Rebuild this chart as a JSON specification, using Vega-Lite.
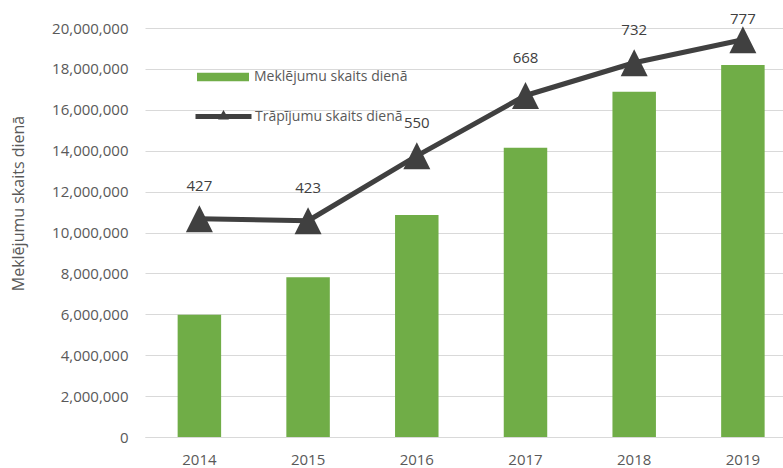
{
  "$schema": "https://vega.github.io/schema/vega-lite/v6.json",
  "autosize": "none",
  "width": 638,
  "height": 409,
  "padding": {"left": 145, "top": 28, "right": 0, "bottom": 31},
  "background": "white",
  "config": {
    "view": {"stroke": null},
    "font": "Open Sans",
    "axis": {"labelFont": "Open Sans", "titleFont": "Open Sans", "labelColor": "#595959", "titleColor": "#595959", "titleFontWeight": "normal"},
    "legend": {"labelFont": "Open Sans", "labelColor": "#595959", "labelFontSize": 14}
  },
  "data": {
    "values": [
      {"year": "2014", "searches": 5980000, "hits": 427},
      {"year": "2015", "searches": 7810000, "hits": 423},
      {"year": "2016", "searches": 10860000, "hits": 550},
      {"year": "2017", "searches": 14150000, "hits": 668},
      {"year": "2018", "searches": 16880000, "hits": 732},
      {"year": "2019", "searches": 18190000, "hits": 777}
    ]
  },
  "encoding": {
    "x": {
      "field": "year",
      "type": "nominal",
      "scale": {"paddingInner": 0.6, "paddingOuter": 0.2346, "align": 0.64},
      "axis": {"title": null, "labelAngle": 0, "ticks": false, "domain": true, "domainColor": "#d9d9d9", "domainWidth": 1, "labelFontSize": 15, "labelPadding": 15, "grid": false}
    }
  },
  "layer": [
    {
      "mark": {"type": "bar"},
      "encoding": {
        "y": {
          "field": "searches",
          "type": "quantitative",
          "scale": {"domain": [0, 20000000]},
          "axis": {
            "title": "Meklējumu skaits dienā",
            "titleFontSize": 16,
            "titleAngle": -90,
            "titleX": -127,
            "titleY": 175,
            "titleAlign": "center",
            "titleBaseline": "middle",
            "values": [0, 2000000, 4000000, 6000000, 8000000, 10000000, 12000000, 14000000, 16000000, 18000000, 20000000],
            "format": ",d",
            "labelFontSize": 15,
            "labelPadding": 17,
            "ticks": false,
            "domain": false,
            "grid": true,
            "gridColor": "#d9d9d9",
            "gridWidth": 1
          }
        },
        "fill": {
          "datum": "Meklējumu skaits dienā",
          "scale": {"range": ["#70AD47"]},
          "legend": {
            "title": null,
            "orient": "none",
            "legendX": 52,
            "legendY": 23,
            "symbolType": "M-1,-0.16H1V0.16H-1Z",
            "symbolSize": 2704,
            "symbolStrokeWidth": 0,
            "labelOffset": 5
          }
        }
      }
    },
    {
      "mark": {"type": "line", "strokeWidth": 5, "strokeCap": "round", "strokeJoin": "round"},
      "encoding": {
        "y": {"field": "hits", "type": "quantitative", "scale": {"domain": [0, 800]}, "axis": null},
        "stroke": {
          "datum": "Trāpījumu skaits dienā",
          "scale": {"range": ["#404040"]},
          "legend": {
            "title": null,
            "orient": "none",
            "legendX": 48,
            "legendY": 58,
            "symbolType": "M-1,0H1M-0.04,0.02L0,-0.05L0.04,0.02Z",
            "symbolSize": 3136,
            "symbolStrokeWidth": 5,
            "symbolFillColor": "#404040",
            "labelOffset": 1
          }
        }
      }
    },
    {
      "mark": {"type": "point", "shape": "M0,-1L1,1L-1,1Z", "size": 729, "filled": true, "color": "#404040", "opacity": 1},
      "encoding": {
        "y": {"field": "hits", "type": "quantitative", "scale": {"domain": [0, 800]}, "axis": null}
      }
    },
    {
      "transform": [{"filter": "datum.year != '2017' && datum.year != '2019'"}],
      "mark": {"type": "text", "dy": -33, "fontSize": 15, "color": "#404040", "font": "Open Sans"},
      "encoding": {
        "y": {"field": "hits", "type": "quantitative", "scale": {"domain": [0, 800]}, "axis": null},
        "text": {"field": "hits", "type": "quantitative"}
      }
    },
    {
      "transform": [{"filter": "datum.year == '2017'"}],
      "mark": {"type": "text", "dy": -37, "fontSize": 15, "color": "#404040", "font": "Open Sans"},
      "encoding": {
        "y": {"field": "hits", "type": "quantitative", "scale": {"domain": [0, 800]}, "axis": null},
        "text": {"field": "hits", "type": "quantitative"}
      }
    },
    {
      "transform": [{"filter": "datum.year == '2019'"}],
      "mark": {"type": "text", "dy": -21, "fontSize": 15, "color": "#404040", "font": "Open Sans"},
      "encoding": {
        "y": {"field": "hits", "type": "quantitative", "scale": {"domain": [0, 800]}, "axis": null},
        "text": {"field": "hits", "type": "quantitative"}
      }
    }
  ],
  "resolve": {"scale": {"y": "independent"}}
}
